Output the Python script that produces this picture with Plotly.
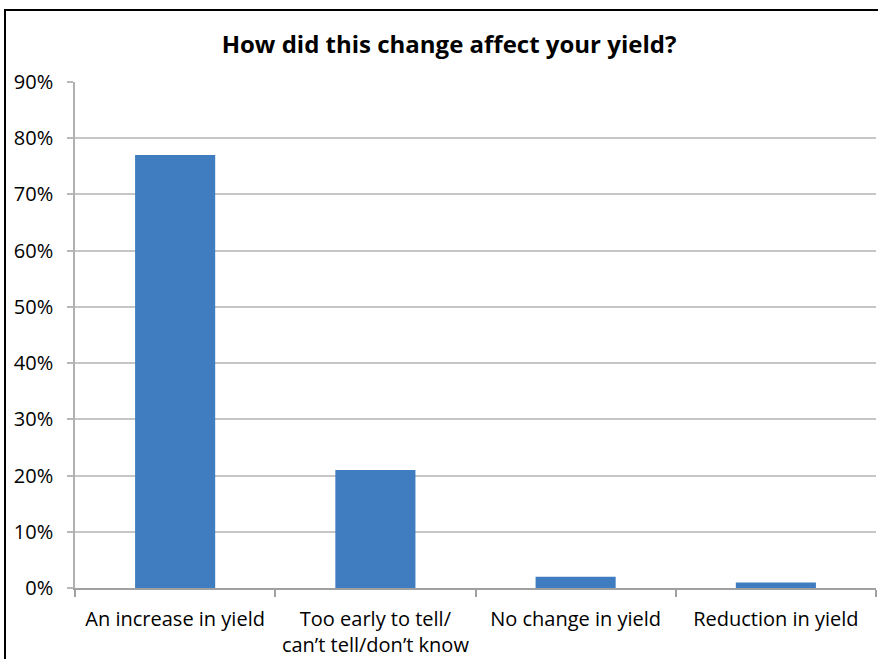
import plotly.graph_objects as go

categories = ["An increase in yield", "Too early to tell/<br>can’t tell/don’t know",
              "No change in yield", "Reduction in yield"]
values = [0.77, 0.21, 0.02, 0.01]
y_ticks = [0, 0.1, 0.2, 0.3, 0.4, 0.5, 0.6, 0.7, 0.8, 0.9]
y_labels = ["0%", "10%", "20%", "30%", "40%", "50%", "60%", "70%", "80%", "90%"]
title = "How did this change affect your yield?"

W, H = 878, 659
ml, mr, mt, mb = 75, 2, 82, 71
pw, ph = W - ml - mr, H - mt - mb

fig = go.Figure(go.Bar(
    x=categories, y=values, width=0.4,
    marker=dict(color="#3f7dc0", line=dict(width=0)),
))

font = "'Open Sans', Lato, sans-serif"
fig.update_layout(
    width=W, height=H,
    margin=dict(l=ml, r=mr, t=mt, b=mb),
    paper_bgcolor="white", plot_bgcolor="white",
    title=dict(text="<b>" + title + "</b>", x=449 / W, xanchor="center",
               y=1 - 45 / H, yanchor="middle",
               font=dict(family=font, size=24, color="black")),
    font=dict(family=font, size=20, color="black"),
    showlegend=False,
)
fig.update_yaxes(
    range=[0, 0.9], tickvals=y_ticks, ticktext=y_labels,
    showgrid=True, gridcolor="#c6c6c6", gridwidth=1.5,
    showline=True, linecolor="#b0b0b0", linewidth=1.5,
    ticks="outside", ticklen=6, tickcolor="#b8b8b8", tickwidth=1.5,
    ticklabelstandoff=10, zeroline=False,
    tickfont=dict(family=font, size=20, color="black"),
)
fig.update_xaxes(
    showline=True, linecolor="#a0a0a0", linewidth=1.5,
    ticks="outside", tickson="boundaries", ticklen=7, tickcolor="#a0a0a0", tickwidth=1.5,
    ticklabelstandoff=12,
    tickfont=dict(family=font, size=20, color="black"),
)

# outer chart border (frame of the embedded chart)
fig.add_shape(type="rect", xref="paper", yref="paper",
              x0=(5 - ml) / pw, x1=(W + 10 - ml) / pw,
              y0=-(mb + 10) / ph, y1=1 + (mt - 10) / ph,
              line=dict(color="black", width=2), fillcolor="rgba(0,0,0,0)", layer="above")

fig.write_html("out.html", config={"displayModeBar": False},
               post_script="document.body.style.margin='0';document.body.style.overflow='hidden';")
